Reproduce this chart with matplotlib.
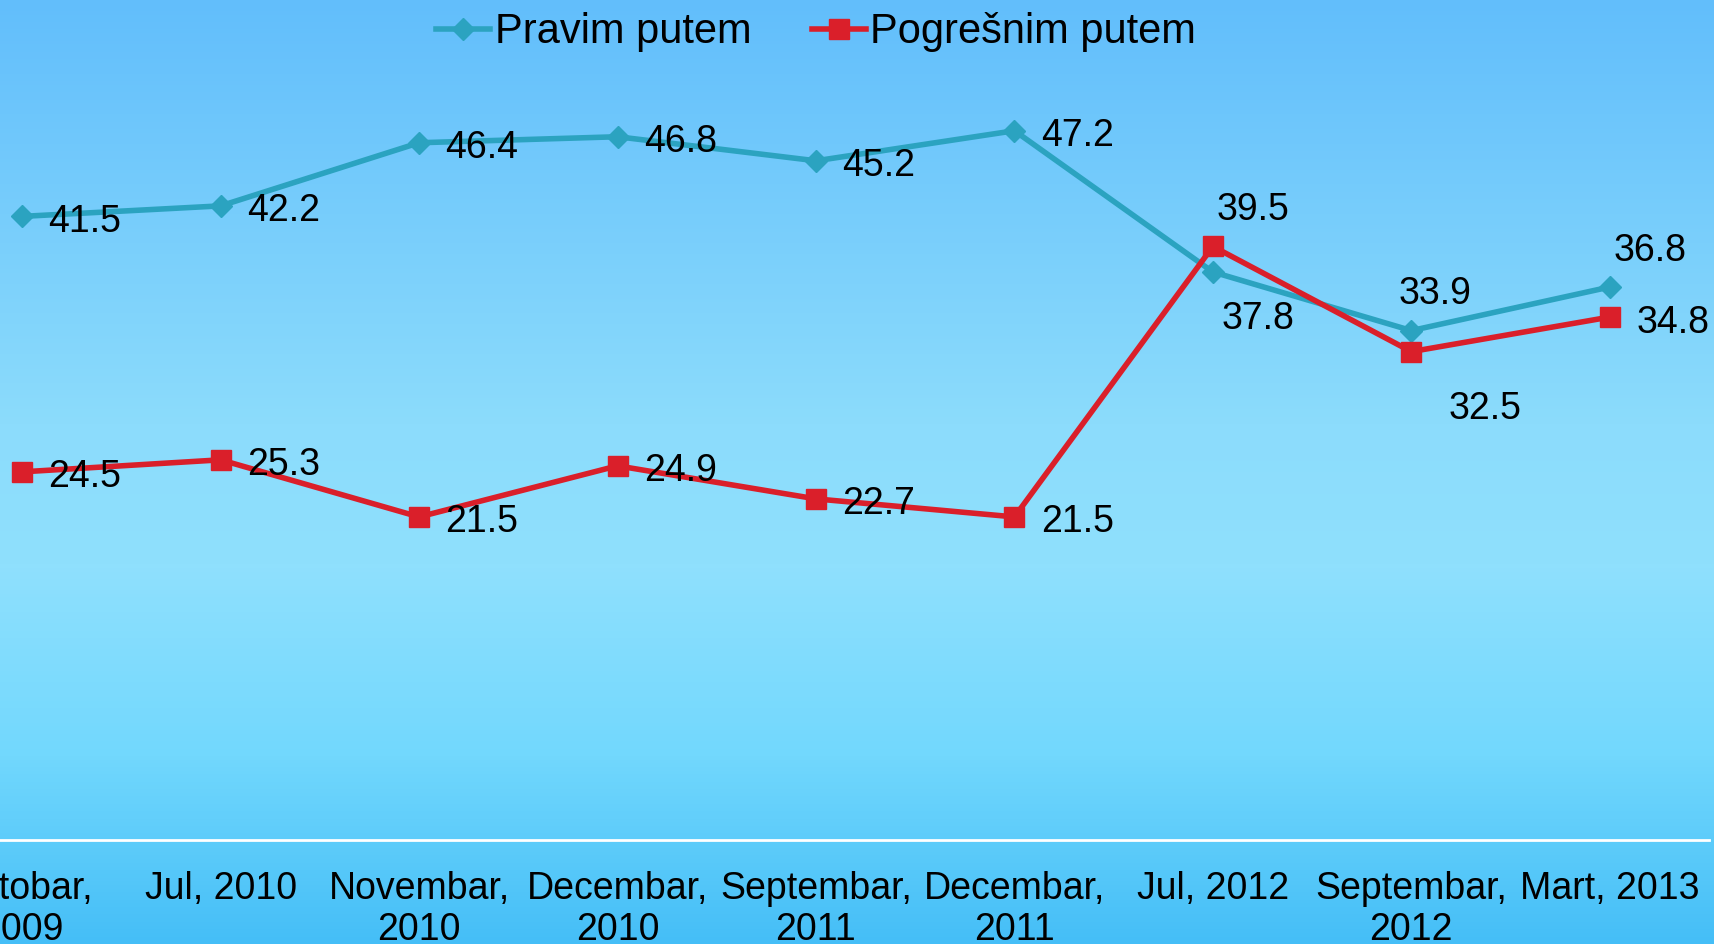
import numpy as np
import matplotlib
matplotlib.use("Agg")
import matplotlib.pyplot as plt
from matplotlib.colors import LinearSegmentedColormap

plt.rcParams['font.family'] = ['Liberation Sans', 'DejaVu Sans']

categories = ["Oktobar,\n2009", "Jul, 2010", "Novembar,\n2010", "Decembar,\n2010",
              "Septembar,\n2011", "Decembar,\n2011", "Jul, 2012", "Septembar,\n2012",
              "Mart, 2013"]
pravim = [41.5, 42.2, 46.4, 46.8, 45.2, 47.2, 37.8, 33.9, 36.8]
pogresnim = [24.5, 25.3, 21.5, 24.9, 22.7, 21.5, 39.5, 32.5, 34.8]

# label placement per point: r = right, a = above, b = below
pravim_pos = ["r", "r", "r", "r", "r", "r", "b", "ac", "a"]
pogresnim_pos = ["r", "r", "r", "r", "r", "r", "a", "bf", "r"]

teal = "#2BA3C0"
red = "#DA1F2A"

fig = plt.figure(figsize=(17.14, 9.44), dpi=100)

# gradient background
bg = fig.add_axes([0, 0, 1, 1])
cmap = LinearSegmentedColormap.from_list("bg", [
    (0.0, "#62BEFB"),
    (0.45, "#8CDCFC"),
    (0.60, "#8FE0FD"),
    (0.80, "#72D8FD"),
    (1.0, "#45BEF7"),
])
grad = np.linspace(0, 1, 256).reshape(-1, 1)
bg.imshow(grad, aspect="auto", cmap=cmap, extent=[0, 1, 0, 1])
bg.set_axis_off()

ax = fig.add_axes([-77 / 1714, 104 / 944, 1786 / 1714, 840 / 944])
ax.patch.set_alpha(0)
x = np.arange(len(categories))

ax.plot(x, pravim, color=teal, lw=4, marker="D", ms=11, label="Pravim putem")
ax.plot(x, pogresnim, color=red, lw=4, marker="s", ms=14, label="Pogrešnim putem")

offsets = {"r": (19, -4),
           "a": (3, 26),
           "ac": (-9, 26),
           "b": (6, -34),
           "bf": (27, -41)}

def label_series(vals, pos):
    for i, (v, p) in enumerate(zip(vals, pos)):
        dx, dy = offsets[p]
        ax.annotate(f"{v}", (i, v), xytext=(dx, dy), textcoords="offset points",
                    ha="left", va="center", fontsize=27, color="black")

label_series(pravim, pravim_pos)
label_series(pogresnim, pogresnim_pos)

ax.set_xlim(-0.5, 8.5)
ax.set_ylim(0, 55.9)
ax.set_xticks(x)
ax.set_xticklabels(categories, fontsize=27, linespacing=1.2)
ax.tick_params(axis="x", length=0, pad=22)
ax.set_yticks([])
for s in ["top", "right", "left"]:
    ax.spines[s].set_visible(False)
ax.spines["bottom"].set_color("white")
ax.spines["bottom"].set_linewidth(2)

leg = ax.legend(loc="upper center", bbox_to_anchor=(0.5, 1.005), ncol=2, frameon=False,
                fontsize=30, handlelength=1.3, handletextpad=0.1, columnspacing=1.45,
                borderaxespad=0)

fig.savefig("out.png", dpi=100)
